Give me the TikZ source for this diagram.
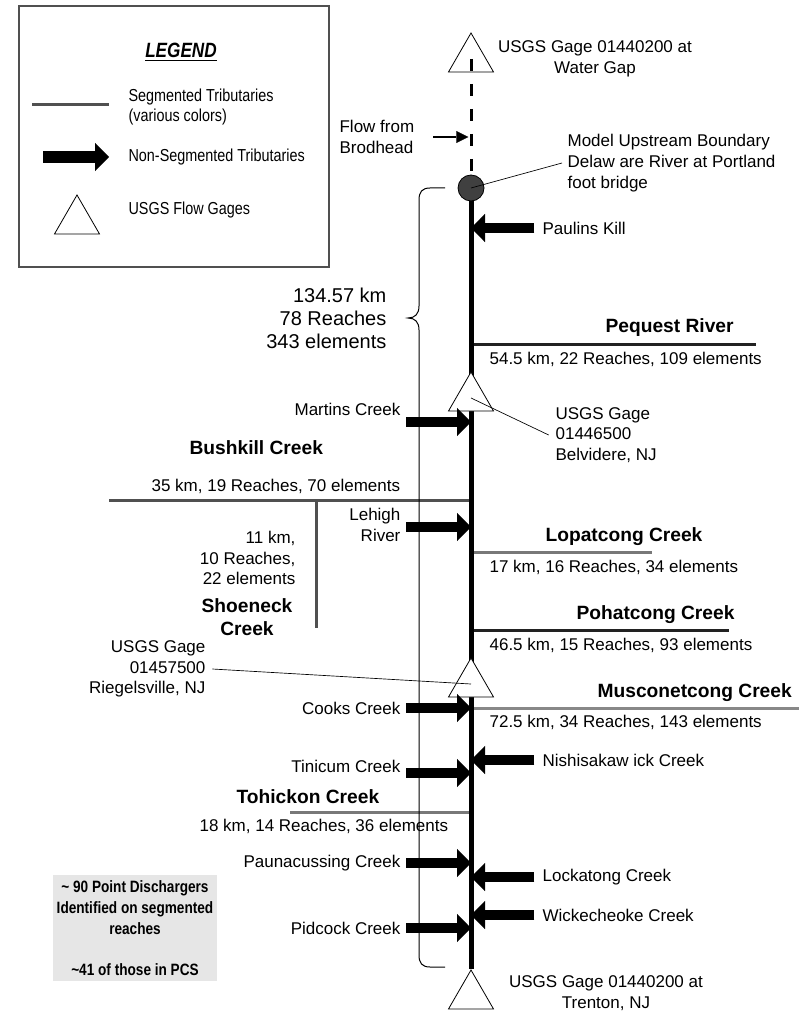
\documentclass[tikz,border=0pt]{standalone}
\usepackage{fontspec}
\setmainfont{Liberation Sans}
\newfontfamily\narrowsf{Liberation Sans}[FakeStretch=0.83]
\usetikzlibrary{arrows.meta,shapes.geometric,backgrounds}

\definecolor{segdark}{HTML}{222222}
\definecolor{segmid}{HTML}{505050}
\definecolor{segpale}{HTML}{787878}
\definecolor{segpaler}{HTML}{888888}
\definecolor{bndgray}{HTML}{404040}
\definecolor{notegray}{HTML}{E6E6E6}

\tikzset{
  lbl/.style={inner sep=1pt, font=\fontsize{12.75}{15.5}\selectfont},
  trname/.style={inner sep=1pt, font=\fontsize{14.4}{17}\selectfont\bfseries},
  legtxt/.style={inner sep=1pt, font=\narrowsf\fontsize{13}{15}\selectfont},
  river/.style={line width=3.75pt},
  upstream/.style={line width=2.25pt, dash pattern=on 9pt off 9.75pt},
  seg/.style={line width=2.25pt},
  trib/.style={line width=7.5pt, -{Triangle[length=10.5pt,width=21pt,line width=0.1pt]}},
  flowarrow/.style={line width=1.5pt, -{Triangle[length=9pt,width=9pt,line width=0.1pt]}, shorten >=2pt},
  gage/.style={regular polygon, regular polygon sides=3, draw, fill=white, line width=0.6pt, minimum size=39pt, inner sep=0pt},
  leader/.style={line width=0.5pt},
}

\begin{document}
\begin{tikzpicture}[x=0.75pt, y=-0.75pt]
\useasboundingbox (0,0) rectangle (799,1012);

% Legend
\draw[line width=0.8pt, segmid] (19,6) rectangle (329,267);
\node[inner sep=1pt, font=\narrowsf\fontsize{15.5}{18}\selectfont\bfseries\itshape] (legtitle) at (181,52) {\underline{LEGEND}};
\coordinate (lsegA) at (32,105);
\coordinate (lsegB) at (109,105);
\draw[seg, segmid] (lsegA) -- (lsegB);
\node[legtxt, anchor=west, align=left] (lsegtxt) at (127,107) {Segmented Tributaries\\(various colors)};
\coordinate (ltribA) at (43,157);
\coordinate (ltribB) at (109,157);
\draw[trib, line width=9pt] (ltribA) -- (ltribB);
\node[legtxt, anchor=west] (ltribtxt) at (127,157) {Non-Segmented Tributaries};
\node[gage] (lgage) at (77,221) {};
\node[legtxt, anchor=west] (lgagetxt) at (127,210) {USGS Flow Gages};

% Point discharger note
\node[fill=notegray, minimum width=123pt, minimum height=80pt, inner sep=2pt, align=center,
  font=\narrowsf\bfseries\fontsize{12.3}{15.75}\selectfont] (pdnote) at (135,928)
  {\textasciitilde{} 90 Point Dischargers\\Identified on segmented\\reaches\\[15pt]\textasciitilde{}41 of those in PCS};

% Gages and model boundary
\coordinate (rv) at (471,0);
\node[gage] (gwgap) at (471,59) {};
\node[gage] (gbelv) at (471,398) {};
\node[gage] (griegl) at (471,684) {};
\node[gage] (gtrent) at (471,996) {};
\node[circle, draw, fill=bndgray, line width=0.6pt, minimum size=19.5pt, inner sep=0pt] (ubound) at (471,188) {};

% Main stem and segmented tributaries
\begin{scope}[on background layer]
  \foreach \nm/\xx/\yy/\cl in {peq/756/344/segdark, bush/109/500/segmid, lop/652/552/segpale,
      poh/729/630/segdark, musc/799/708/segpaler, toh/290/812/segpale}{
    \coordinate (\nm) at (\xx,\yy);
    \draw[seg, \cl] (\nm -| rv) -- (\nm);
  }
  \coordinate (shoe) at (316,628);
  \draw[seg, segmid] (shoe |- bush) -- (shoe);
  \draw[river] (ubound.center) -- (gtrent.north);
\end{scope}

% Upstream of model
\draw[upstream] (gwgap.center) -- (ubound.north);
\node[lbl, align=center] (gwgaptxt) at (595,59) {USGS Gage 01440200 at\\Water Gap};
\node[lbl, anchor=west, align=left] (flow) at (338,137) {Flow from\\Brodhead};
\draw[flowarrow] ([xshift=13pt]flow.east) -- (flow.east -| rv);
\node[lbl, anchor=west, align=left] (upbnd) at (566,163) {Model Upstream Boundary\\Delaw are River at Portland\\foot bridge};
\draw[leader] (ubound.center) -- ([xshift=-3pt]upbnd.west);

% Non-segmented tributaries, left bank
\foreach \nm/\ty/\ay/\txt in {mart/409/422/Martins Creek, cook/708/708/Cooks Creek, tini/766/773/Tinicum Creek,
    paun/863/863/Paunacussing Creek, pidc/928/928/Pidcock Creek}{
  \node[lbl, anchor=east] (\nm) at (402,\ty) {\txt};
  \coordinate (a\nm) at (406,\ay);
  \draw[trib] (a\nm) -- (a\nm -| rv);
}
\node[lbl, anchor=east, align=right] (lehigh) at (402,525) {Lehigh\\River};
\coordinate (alehigh) at (406,527);
\draw[trib] (alehigh) -- (alehigh -| rv);

% Non-segmented tributaries, right bank
\foreach \nm/\yy/\txt in {paul/228/Paulins Kill, nish/760/Nishisakaw ick Creek, lock/877/Lockatong Creek,
    wick/915/Wickecheoke Creek}{
  \node[lbl, anchor=west] (\nm) at (541,\yy) {\txt};
  \draw[trib] ([xshift=-5pt]\nm.west) -- (\nm.west -| rv);
}

% Total reach
\draw[line width=0.75pt] (445,188) -- (430,188) .. controls (422,188) and (419,192) .. (419,200)
  -- (419,306) .. controls (419,314) and (415,318) .. (408,318)
  .. controls (415,318) and (419,322) .. (419,330) -- (419,955)
  .. controls (419,963) and (422,967) .. (430,967) -- (445,967);
\node[inner sep=1pt, anchor=east, align=right, font=\fontsize{15}{17.3}\selectfont] (total) at (388,318) {134.57 km\\78 Reaches\\343 elements};

% Segmented tributary labels
\node[trname, anchor=west] (peqname) at (604,328) {Pequest River};
\node[lbl, anchor=west] (peqstat) at (488,359) {54.5 km, 22 Reaches, 109 elements};
\node[trname, anchor=west] (bushname) at (188,448) {Bushkill Creek};
\node[lbl, anchor=west] (bushstat) at (150,486) {35 km, 19 Reaches, 70 elements};
\node[lbl, anchor=east, align=right] (shoestat) at (297,558) {11 km,\\10 Reaches,\\22 elements};
\node[trname, align=center] (shoename) at (247,617) {Shoeneck\\Creek};
\node[trname, anchor=west] (lopname) at (544,537) {Lopatcong Creek};
\node[lbl, anchor=west] (lopstat) at (488,567) {17 km, 16 Reaches, 34 elements};
\node[trname, anchor=west] (pohname) at (575,615) {Pohatcong Creek};
\node[lbl, anchor=west] (pohstat) at (488,645) {46.5 km, 15 Reaches, 93 elements};
\node[trname, anchor=west] (muscname) at (596,693) {Musconetcong Creek};
\node[lbl, anchor=west] (muscstat) at (488,722) {72.5 km, 34 Reaches, 143 elements};
\node[trname, anchor=west] (tohname) at (235,797) {Tohickon Creek};
\node[lbl, anchor=west] (tohstat) at (198,826) {18 km, 14 Reaches, 36 elements};

% Gage labels
\node[lbl, anchor=west, align=left] (gbelvtxt) at (554,435) {USGS Gage\\01446500\\Belvidere, NJ};
\draw[leader] (gbelv.center) -- ([xshift=-4pt]gbelvtxt.west);
\node[lbl, anchor=east, align=right] (griegltxt) at (207,669) {USGS Gage\\01457500\\Riegelsville, NJ};
\draw[leader] ([xshift=4pt]griegltxt.east) -- (griegl.center);
\node[lbl, align=center] (gtrenttxt) at (606,993) {USGS Gage 01440200 at\\Trenton, NJ};

\end{tikzpicture}
\end{document}
